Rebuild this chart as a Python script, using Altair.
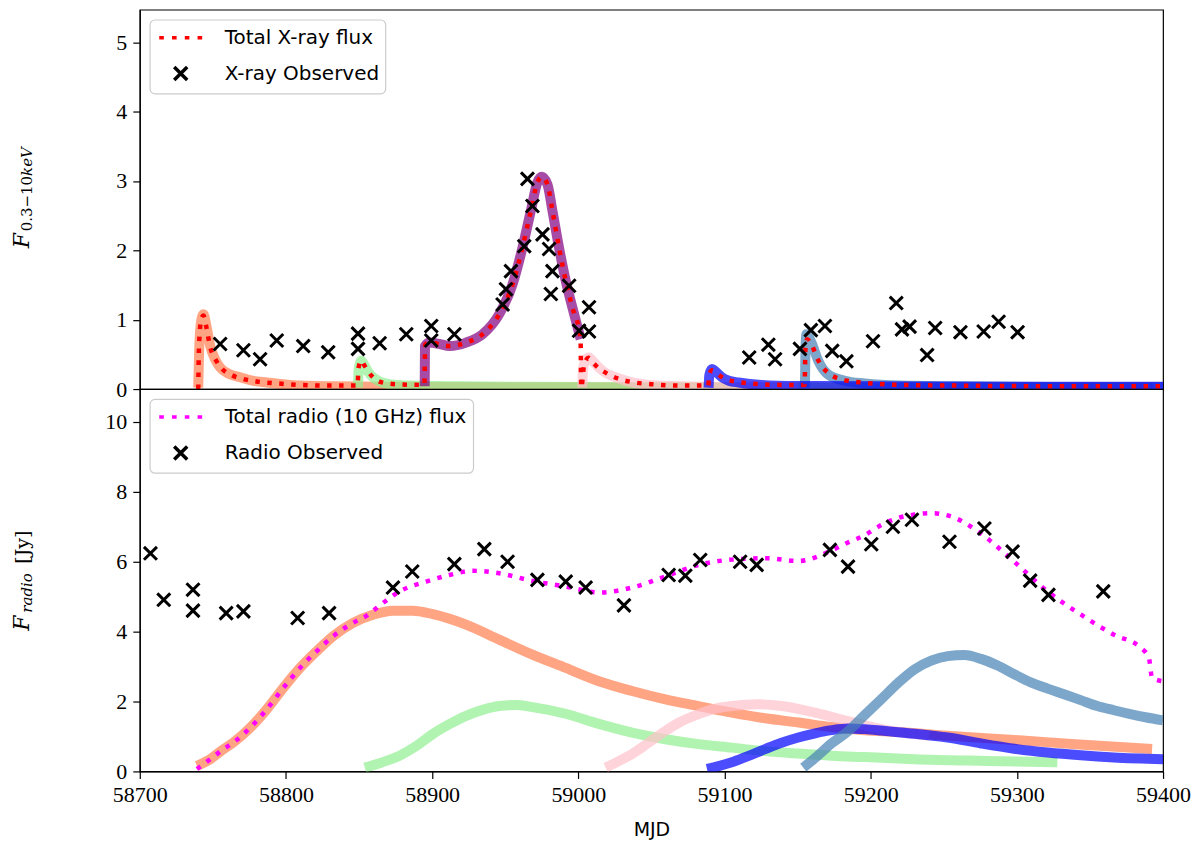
import altair as alt
import pandas as pd

# ---------------- axes / labels ----------------
X_DOMAIN = [58700, 59400]
X_TICKS = [58700, 58800, 58900, 59000, 59100, 59200, 59300, 59400]
XRAY_TICKS = [0, 1, 2, 3, 4, 5]
RADIO_TICKS = [0, 2, 4, 6, 8, 10]
XRAY_YMAX = 5.47
RADIO_YMAX = 10.94

XRAY_TOTAL_LABEL = "Total X-ray flux"
XRAY_OBS_LABEL = "X-ray Observed"
RADIO_TOTAL_LABEL = "Total radio (10 GHz) flux"
RADIO_OBS_LABEL = "Radio Observed"
X_TITLE = "MJD"

# ---------------- X-ray model components (MJD, flux) ----------------
XRAY_ORANGE = [(58740.0, 0.02), (58740.6, 0.55), (58742.0, 0.98), (58743.6, 1.08), (58745.5, 0.92),
               (58748.2, 0.62), (58751.5, 0.43), (58755.0, 0.31), (58761.0, 0.22), (58768.7, 0.17),
               (58777.0, 0.12), (58786.9, 0.095), (58798.0, 0.07), (58809.6, 0.05), (58830.0, 0.04),
               (58860.0, 0.035), (58900.0, 0.03), (59000.0, 0.025), (59100.0, 0.02), (59200.0, 0.02),
               (59300.0, 0.02), (59393.0, 0.02)]
XRAY_GREEN = [(58849.3, 0.02), (58849.8, 0.30), (58851.6, 0.41), (58854.0, 0.33), (58856.5, 0.24),
              (58859.5, 0.17), (58864.0, 0.11), (58870.9, 0.07), (58885.0, 0.05), (58920.0, 0.04),
              (59000.0, 0.03), (59100.0, 0.025), (59200.0, 0.02), (59329.0, 0.02)]
XRAY_PURPLE = [(58894.9, 0.04), (58895.1, 0.62), (58898.3, 0.67), (58905.0, 0.65), (58911.9, 0.62),
               (58923.2, 0.67), (58934.5, 0.79), (58945.9, 1.08), (58955.0, 1.51), (58961.8, 2.04),
               (58967.5, 2.57), (58972.0, 2.98), (58975.0, 3.06), (58978.9, 2.95), (58982.3, 2.57),
               (58986.8, 2.04), (58991.4, 1.56), (58995.9, 1.18), (59001.6, 0.72)]
XRAY_PINK = [(59002.7, 0.02), (59003.3, 0.30), (59005.0, 0.42), (59007.3, 0.455), (59010.0, 0.40),
             (59014.1, 0.31), (59019.0, 0.23), (59025.5, 0.17), (59036.8, 0.095), (59048.2, 0.06),
             (59070.0, 0.04), (59100.0, 0.03), (59150.0, 0.02)]
XRAY_BLUE = [(59089.1, 0.02), (59089.6, 0.20), (59091.4, 0.29), (59094.0, 0.25), (59098.2, 0.17),
             (59103.0, 0.12), (59109.6, 0.095), (59125.5, 0.06), (59150.0, 0.045), (59200.0, 0.04),
             (59300.0, 0.035), (59400.0, 0.035)]
XRAY_STEEL = [(59155.0, 0.02), (59155.4, 0.60), (59156.1, 0.79), (59159.5, 0.67), (59164.1, 0.41),
              (59170.9, 0.21), (59182.3, 0.12), (59196.0, 0.08), (59220.0, 0.05), (59260.0, 0.04),
              (59330.0, 0.03), (59400.0, 0.03)]
XRAY_TOTAL = [(58740.0, 0.0), (58740.5, 0.6), (58742.0, 1.0), (58743.5, 1.06), (58745.5, 0.9),
              (58748.0, 0.62), (58752.0, 0.42), (58756.0, 0.3), (58763.0, 0.2), (58770.0, 0.15),
              (58780.0, 0.11), (58795.0, 0.08), (58810.0, 0.06), (58830.0, 0.05), (58849.0, 0.05),
              (58849.6, 0.3), (58851.5, 0.41), (58854.0, 0.33), (58859.0, 0.18), (58865.0, 0.1),
              (58875.0, 0.07), (58894.7, 0.06), (58895.2, 0.64), (58898.3, 0.67), (58911.9, 0.62),
              (58923.2, 0.67), (58934.5, 0.79), (58945.9, 1.08), (58955.0, 1.51), (58961.8, 2.04),
              (58967.5, 2.57), (58972.0, 2.98), (58975.0, 3.06), (58978.9, 2.95), (58982.3, 2.57),
              (58986.8, 2.04), (58991.4, 1.56), (58995.9, 1.18), (59001.5, 0.74), (59002.0, 0.02),
              (59004.0, 0.35), (59007.0, 0.45), (59010.0, 0.38), (59014.0, 0.3), (59020.0, 0.22),
              (59026.0, 0.16), (59037.0, 0.1), (59050.0, 0.07), (59070.0, 0.05), (59088.9, 0.05),
              (59089.5, 0.2), (59091.5, 0.27), (59095.0, 0.22), (59100.0, 0.15), (59110.0, 0.1),
              (59125.0, 0.07), (59140.0, 0.06), (59154.8, 0.06), (59155.4, 0.6), (59156.5, 0.72),
              (59159.5, 0.64), (59164.0, 0.42), (59171.0, 0.23), (59182.0, 0.13), (59196.0, 0.09),
              (59220.0, 0.06), (59260.0, 0.05), (59330.0, 0.04), (59400.0, 0.04)]
XRAY_OBS = [(58755.0, 0.65), (58770.9, 0.56), (58782.3, 0.43), (58793.7, 0.70), (58811.8, 0.62),
            (58828.9, 0.53), (58849.3, 0.80), (58849.3, 0.58), (58864.1, 0.66), (58882.3, 0.79),
            (58899.4, 0.91), (58899.4, 0.70), (58915.2, 0.79), (58948.2, 1.22), (58950.5, 1.44),
            (58953.9, 1.70), (58963.0, 2.06), (58965.2, 3.03), (58968.6, 2.64), (58975.5, 2.23),
            (58980.0, 2.02), (58982.3, 1.70), (58981.2, 1.37), (58993.7, 1.49), (59007.3, 1.18),
            (59000.5, 0.84), (59007.3, 0.83), (59116.9, 0.455), (59130.0, 0.64), (59134.6, 0.43),
            (59151.6, 0.58), (59159.1, 0.85), (59168.7, 0.91), (59173.7, 0.55), (59183.4, 0.40),
            (59201.6, 0.69), (59217.5, 1.24), (59221.4, 0.86), (59226.6, 0.90), (59238.6, 0.49),
            (59244.1, 0.88), (59261.4, 0.82), (59277.3, 0.83), (59287.5, 0.97), (59300.5, 0.82)]

# ---------------- radio model components (MJD, flux) ----------------
RADIO_ORANGE = [(58739.1, 0.16), (58748.2, 0.35), (58756.0, 0.6), (58764.1, 0.83), (58775.5, 1.25),
                (58786.9, 1.78), (58798.2, 2.39), (58809.6, 2.96), (58821.0, 3.44), (58832.3, 3.87),
                (58845.9, 4.25), (58859.5, 4.48), (58873.2, 4.60), (58886.8, 4.60), (58900.5, 4.50),
                (58923.2, 4.20), (58945.9, 3.77), (58968.6, 3.34), (58991.4, 2.96), (59014.1, 2.58),
                (59036.8, 2.30), (59059.6, 2.06), (59082.3, 1.87), (59105.0, 1.68), (59127.8, 1.52),
                (59150.5, 1.40), (59173.2, 1.27), (59196.0, 1.18), (59218.7, 1.13), (59250.0, 1.03),
                (59298.2, 0.90), (59340.0, 0.78), (59392.5, 0.64)]
RADIO_GREEN = [(58853.9, 0.11), (58865.0, 0.25), (58877.7, 0.45), (58890.0, 0.75), (58900.5, 1.07),
               (58911.8, 1.35), (58923.2, 1.59), (58934.5, 1.76), (58945.9, 1.87), (58957.3, 1.90),
               (58968.6, 1.84), (58991.4, 1.65), (59014.1, 1.36), (59036.8, 1.11), (59059.6, 0.92),
               (59082.3, 0.78), (59105.0, 0.68), (59127.8, 0.58), (59150.5, 0.51), (59173.2, 0.45),
               (59196.0, 0.41), (59230.0, 0.35), (59280.0, 0.30), (59327.7, 0.26)]
RADIO_PINK = [(59018.7, 0.11), (59027.0, 0.28), (59036.8, 0.50), (59048.0, 0.82), (59059.6, 1.16),
              (59070.0, 1.42), (59082.3, 1.64), (59093.0, 1.79), (59105.0, 1.87), (59123.2, 1.92),
              (59139.0, 1.87), (59161.9, 1.68), (59184.5, 1.44), (59207.3, 1.21), (59225.0, 1.09),
              (59240.0, 1.02)]
RADIO_BLUE = [(59088.0, 0.07), (59096.0, 0.15), (59105.0, 0.26), (59116.0, 0.44), (59127.8, 0.64),
              (59139.0, 0.82), (59150.5, 0.97), (59162.0, 1.09), (59173.2, 1.18), (59184.5, 1.23),
              (59196.0, 1.21), (59207.0, 1.17), (59218.7, 1.12), (59230.0, 1.08), (59252.7, 0.97),
              (59275.5, 0.80), (59298.2, 0.65), (59321.0, 0.54), (59343.7, 0.46), (59366.4, 0.40),
              (59400.0, 0.35)]
RADIO_STEEL = [(59153.9, 0.11), (59163.0, 0.42), (59173.2, 0.80), (59184.5, 1.15), (59196.0, 1.62),
               (59207.3, 2.07), (59218.7, 2.53), (59230.0, 2.92), (59241.4, 3.17), (59252.7, 3.30),
               (59264.1, 3.33), (59275.5, 3.22), (59286.8, 3.03), (59298.2, 2.78), (59309.5, 2.55),
               (59321.0, 2.37), (59332.3, 2.21), (59343.7, 2.04), (59355.0, 1.87), (59366.4, 1.75),
               (59377.7, 1.64), (59388.0, 1.55), (59400.0, 1.46)]
RADIO_TOTAL = [(58739.1, 0.07), (58748.2, 0.35), (58756.0, 0.6), (58764.1, 0.83), (58775.5, 1.25),
               (58786.9, 1.78), (58798.2, 2.39), (58809.6, 2.96), (58821.0, 3.44), (58832.3, 3.87),
               (58845.9, 4.25), (58855.0, 4.45), (58866.4, 4.82), (58877.7, 5.15), (58895.9, 5.43),
               (58911.8, 5.62), (58927.7, 5.74), (58945.9, 5.67), (58968.6, 5.45), (58991.4, 5.29),
               (59014.1, 5.12), (59036.8, 5.26), (59059.6, 5.58), (59082.3, 5.91), (59105.0, 6.06),
               (59127.8, 6.10), (59150.5, 6.02), (59173.2, 6.32), (59184.5, 6.55), (59196.0, 6.76),
               (59207.3, 7.05), (59218.7, 7.25), (59230.0, 7.35), (59241.4, 7.39), (59257.3, 7.26),
               (59275.5, 6.80), (59298.2, 6.00), (59321.0, 5.15), (59343.7, 4.49), (59366.4, 3.91),
               (59384.6, 3.54), (59390.3, 3.25), (59392.5, 2.68), (59400.0, 2.58)]
RADIO_OBS = [(58707.3, 6.24), (58716.4, 4.91), (58736.4, 5.20), (58736.4, 4.60), (58759.1, 4.53),
             (58770.9, 4.58), (58808.0, 4.39), (58829.5, 4.53), (58873.2, 5.26), (58886.4, 5.72),
             (58915.2, 5.93), (58935.7, 6.36), (58951.6, 6.00), (58972.0, 5.48), (58991.4, 5.43),
             (59005.0, 5.26), (59031.2, 4.75), (59061.8, 5.62), (59073.2, 5.60), (59083.4, 6.05),
             (59110.7, 6.00), (59122.0, 5.91), (59172.1, 6.34), (59184.5, 5.86), (59200.4, 6.50),
             (59215.2, 7.00), (59228.2, 7.20), (59253.9, 6.57), (59277.8, 6.95), (59297.1, 6.29),
             (59309.1, 5.46), (59321.6, 5.05), (59359.1, 5.15)]

# ---------------- styling ----------------
C_ORANGE, C_GREEN, C_PURPLE = "#FF7F50", "#90EE90", "#800080"
C_PINK, C_BLUE, C_STEEL = "#FFC0CB", "#0000FF", "#4682B4"
W, H_TOP, H_BOT = 1025, 380, 383
SERIF, SANS, TICKFONT = "DejaVu Serif", "DejaVu Sans", "Liberation Serif"
# legend symbols are drawn at size 400 (20 px box); paths extend beyond the box
DOT_PATH = "M-2.15,0H-1.69M-0.87,0H-0.41M0.41,0H0.87M1.69,0H2.15"
CROSS_PATH = "M-0.65,-0.65L0.65,0.65M-0.65,0.65L0.65,-0.65"
POINT_SIZE = 400

xscale = alt.Scale(domain=X_DOMAIN, nice=False, zero=False)

bot_xaxis = alt.Axis(values=X_TICKS, format="d", title=X_TITLE, labelFont=TICKFONT, labelFontSize=22,
                     labelPadding=6, tickSize=7, tickWidth=1.2, titleFont=SANS, titleFontSize=19,
                     titleFontWeight="normal", titlePadding=15, grid=False, labelFlush=False)


def yaxis(values):
    return alt.Axis(values=values, format="d", title=None, labelFont=TICKFONT, labelFontSize=22,
                    labelPadding=6, tickSize=7, tickWidth=1.2, grid=False)


def df(pts, kind=None):
    d = pd.DataFrame(pts, columns=["mjd", "flux"])
    if kind is not None:
        d["kind"] = kind
    return d


def xenc(xaxis):
    if xaxis is None:
        return alt.X("mjd:Q", scale=xscale, axis=None)
    return alt.X("mjd:Q", scale=xscale, axis=xaxis)


def band(pts, color, xaxis, yscale, yax):
    return alt.Chart(df(pts)).mark_line(
        color=color, opacity=0.7, strokeWidth=10, strokeCap="butt", strokeJoin="round",
        interpolate="monotone", clip=True
    ).encode(x=xenc(xaxis), y=alt.Y("flux:Q", scale=yscale, axis=yax))


def panel(components, total_pts, obs_pts, total_label, obs_label, total_color,
          xaxis, ymax, yticks, height, title_parts):
    yscale = alt.Scale(domain=[0, ymax], nice=False, zero=True)
    yax = yaxis(yticks)
    layers = [band(p, c, xaxis, yscale, yax) for p, c in components]
    color_scale = alt.Scale(domain=[total_label, obs_label], range=[total_color, "black"])
    shape_scale = alt.Scale(domain=[total_label, obs_label], range=[DOT_PATH, CROSS_PATH])
    legend = alt.Legend(title=None, orient="top-left", offset=10, labelFont=SANS, labelFontSize=20,
                        labelColor="black", labelLimit=500, symbolSize=POINT_SIZE,
                        symbolStrokeWidth=3.5, symbolOffset=13, labelOffset=32, rowPadding=12)
    layers.append(
        alt.Chart(df(total_pts)).mark_line(
            color=total_color, strokeWidth=4.5, strokeDash=[4.5, 7.5], interpolate="monotone",
            clip=True
        ).encode(x=xenc(xaxis), y=alt.Y("flux:Q", scale=yscale, axis=yax))
    )
    layers.append(
        alt.Chart(df(obs_pts, obs_label)).mark_point(
            filled=False, size=POINT_SIZE, strokeWidth=3, opacity=1, clip=True
        ).encode(
            x=xenc(xaxis),
            y=alt.Y("flux:Q", scale=yscale, axis=yax),
            color=alt.Color("kind:N", scale=color_scale, legend=legend),
            shape=alt.Shape("kind:N", scale=shape_scale, legend=legend),
        )
    )
    for text, px, py, size, style in title_parts:
        layers.append(
            alt.Chart(pd.DataFrame({"t": [text]})).mark_text(
                angle=270, align="left", baseline="alphabetic", font=SERIF, fontSize=size,
                fontStyle=style, color="black"
            ).encode(text="t:N", x=alt.value(px), y=alt.value(py))
        )
    return alt.layer(*layers).properties(width=W, height=height)


top = panel(
    [(XRAY_ORANGE, C_ORANGE), (XRAY_GREEN, C_GREEN), (XRAY_PURPLE, C_PURPLE), (XRAY_PINK, C_PINK),
     (XRAY_STEEL, C_STEEL), (XRAY_BLUE, C_BLUE)],
    XRAY_TOTAL, XRAY_OBS, XRAY_TOTAL_LABEL, XRAY_OBS_LABEL, "red",
    None, XRAY_YMAX, XRAY_TICKS, H_TOP,
    [("F", -110.8, 239, 22, "italic"), ("0.3\u221210", -108.3, 222, 15, "normal"),
     ("keV", -108.3, 166.5, 15, "italic")],
)
bottom = panel(
    [(RADIO_ORANGE, C_ORANGE), (RADIO_GREEN, C_GREEN), (RADIO_PINK, C_PINK), (RADIO_BLUE, C_BLUE),
     (RADIO_STEEL, C_STEEL)],
    RADIO_TOTAL, RADIO_OBS, RADIO_TOTAL_LABEL, RADIO_OBS_LABEL, "magenta",
    bot_xaxis, RADIO_YMAX, RADIO_TICKS, H_BOT,
    [("F", -110.8, 242, 22, "italic"), ("radio", -108.3, 224, 15, "italic"),
     ("[Jy]", -110.8, 175, 19, "normal")],
)

chart = (
    alt.vconcat(top, bottom, spacing=0, bounds="flush")
    .resolve_scale(color="independent", shape="independent")
    .resolve_legend(color="independent", shape="independent")
    .properties(padding={"left": 2, "top": 0, "right": 0, "bottom": 0}, background="white")
    .configure_view(stroke="black", strokeWidth=1.2)
    .configure_axis(domainColor="black", tickColor="black", labelColor="black", titleColor="black",
                    domainWidth=1.2)
    .configure_legend(fillColor="white", strokeColor="#cccccc", strokeWidth=1.2, cornerRadius=5,
                      padding=6)
)

chart.save("out.html", embed_options={"renderer": "svg", "actions": False})
